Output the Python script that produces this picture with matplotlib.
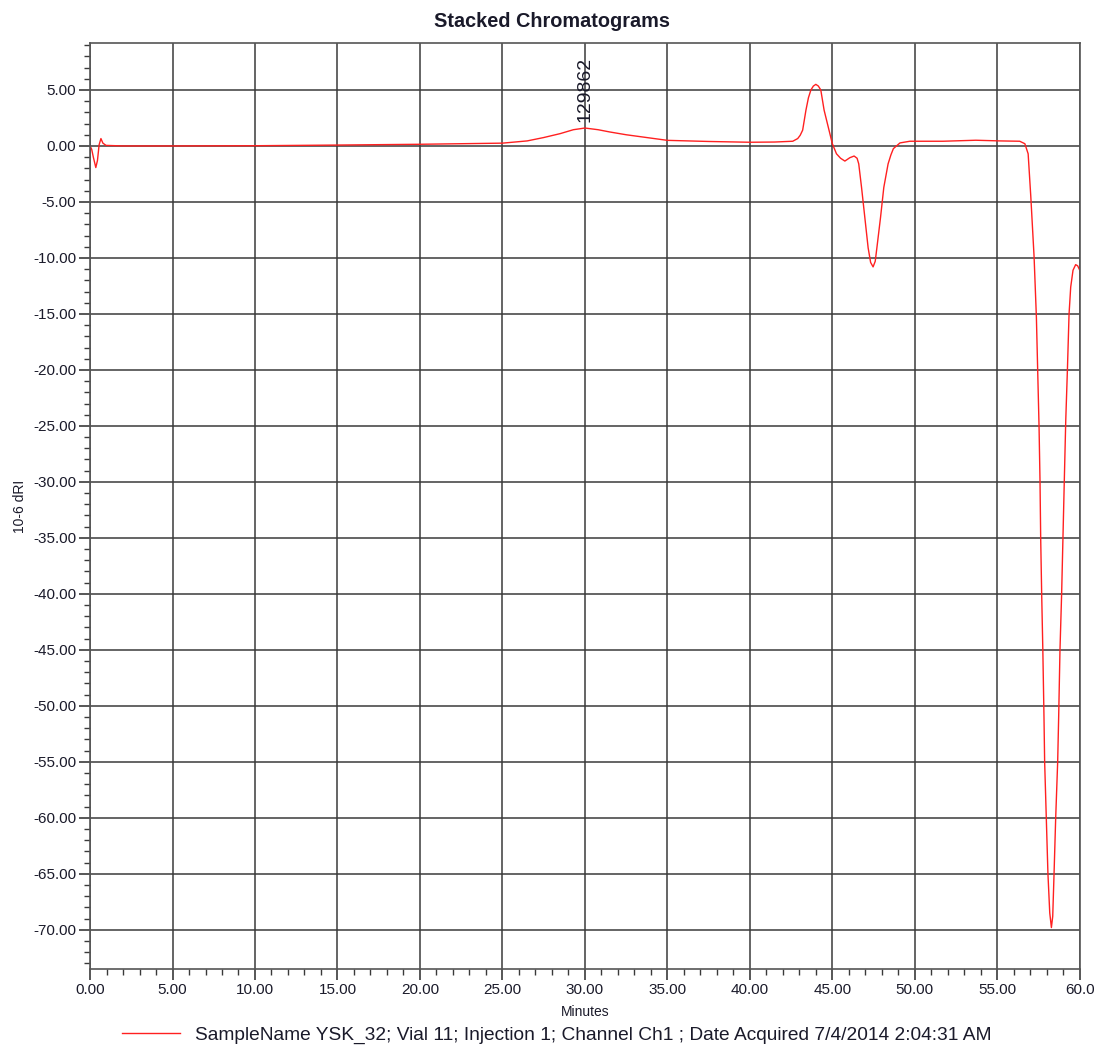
import numpy as np
import matplotlib
matplotlib.use("Agg")
import matplotlib.pyplot as plt
from matplotlib.ticker import MultipleLocator

plt.rcParams["font.family"] = ["Liberation Sans", "DejaVu Sans"]

# ── trace (minutes, 10-6 dRI) ────────────────────────────────────────────────
minutes = [0.00, 0.10, 0.20, 0.35, 0.45, 0.55, 0.66, 0.78, 0.97, 2.0, 5.0,
           10.0, 15.0, 20.0, 22.5, 25.0, 26.5, 27.5, 28.5, 29.3, 30.0, 30.8,
           31.5, 32.5, 33.5, 35.0, 37.5, 40.0, 41.5, 42.6, 42.9, 43.05, 43.2,
           43.4, 43.55, 43.7, 43.85, 44.0, 44.15, 44.3, 44.5, 44.75, 45.0,
           45.25, 45.5, 45.76, 46.06, 46.32, 46.5, 46.6, 46.77, 46.97, 47.17,
           47.32, 47.47, 47.6, 47.7, 47.92, 48.12, 48.38, 48.55, 48.7, 49.1,
           49.7, 51.7, 53.7, 55.15, 56.36, 56.67, 56.87, 57.03, 57.23, 57.37,
           57.53, 57.59, 57.63, 57.69, 57.76, 57.83, 57.87, 57.97, 58.07,
           58.18, 58.28, 58.36, 58.44, 58.54, 58.66, 58.72, 58.80, 58.90,
           58.98, 59.06, 59.15, 59.25, 59.35, 59.45, 59.59, 59.75, 59.87,
           60.00]
signal = [0.00, -0.3, -1.0, -1.93, -1.3, 0.1, 0.66, 0.25, 0.05, 0.0, 0.0,
          0.02, 0.08, 0.15, 0.2, 0.25, 0.45, 0.75, 1.1, 1.45, 1.6, 1.45,
          1.25, 1.0, 0.8, 0.5, 0.4, 0.33, 0.35, 0.42, 0.66, 0.95, 1.41,
          3.2, 4.3, 5.0, 5.35, 5.5, 5.35, 5.0, 3.2, 1.7, 0.2,
          -0.7, -1.1, -1.35, -1.05, -0.9, -1.1, -1.6, -3.7, -6.4, -9.1,
          -10.4, -10.8, -10.3, -9.1, -6.4, -3.7, -1.6, -0.8, -0.24, 0.27,
          0.42, 0.42, 0.51, 0.45, 0.42, 0.2, -0.7, -4.5, -9.9, -15.3,
          -25.0, -30.0, -35.0, -40.0, -45.0, -51.0, -55.0, -60.0, -65.0,
          -68.5, -69.8, -68.8, -65.0, -60.0, -55.0, -51.0, -45.0, -40.0,
          -35.0, -30.0, -24.5, -20.0, -15.0, -12.6, -11.1, -10.6, -10.7,
          -11.1]

peak_time = 30.0
peak_value = 1.6
peak_label = "129862"

x_ticks = [0, 5, 10, 15, 20, 25, 30, 35, 40, 45, 50, 55, 60]
x_tick_labels = ["0.00", "5.00", "10.00", "15.00", "20.00", "25.00", "30.00",
                 "35.00", "40.00", "45.00", "50.00", "55.00", "60.0"]
y_ticks = list(range(-70, 6, 5))

legend_text = ("SampleName YSK_32; Vial 11; Injection 1; Channel Ch1 ; "
               "Date Acquired 7/4/2014 2:04:31 AM")

GRID = "#3a3a3a"
TXT = "#1a1a2a"

fig = plt.figure(figsize=(10.94, 10.47), dpi=100)
ax = fig.add_axes([0.0823, 0.0745, 0.9047, 0.8845])

line, = ax.plot(minutes, signal, color="#ff2020", linewidth=1.0)

ax.set_xlim(0, 60)
ax.set_ylim(-73.5, 9.2)

ax.set_xticks(x_ticks)
ax.set_xticklabels(x_tick_labels)
ax.set_yticks(y_ticks)
ax.set_yticklabels([f"{v:.2f}" for v in y_ticks])
ax.xaxis.set_minor_locator(MultipleLocator(1))
ax.yaxis.set_minor_locator(MultipleLocator(1))

ax.tick_params(which="major", direction="out", length=8, width=1.2,
               color=GRID, labelsize=11, labelcolor=TXT, pad=2)
ax.tick_params(which="minor", direction="out", length=4, width=1.0,
               color=GRID)

ax.grid(which="major", color=GRID, linewidth=1.1)
for sp in ax.spines.values():
    sp.set_edgecolor("#555555")
    sp.set_linewidth(1.2)

ax.text(peak_time, peak_value + 0.5, peak_label, rotation=90,
        ha="center", va="bottom", fontsize=14, color=TXT)

# title sits slightly left of the axes centre in the original
fig.text(0.505, 0.979, "Stacked Chromatograms", fontsize=14.3,
         fontweight="bold", color=TXT, ha="center", va="center")
ax.set_xlabel("Minutes", fontsize=10, color=TXT, labelpad=6)
ax.set_ylabel("10-6 dRI", fontsize=10, color=TXT, labelpad=4)

fig.legend([line], [legend_text], loc="center",
           bbox_to_anchor=(0.509, 0.0115), frameon=False, fontsize=13.8,
           handlelength=3.0, handletextpad=0.8, labelcolor=TXT)

fig.savefig("out.png", dpi=100)
